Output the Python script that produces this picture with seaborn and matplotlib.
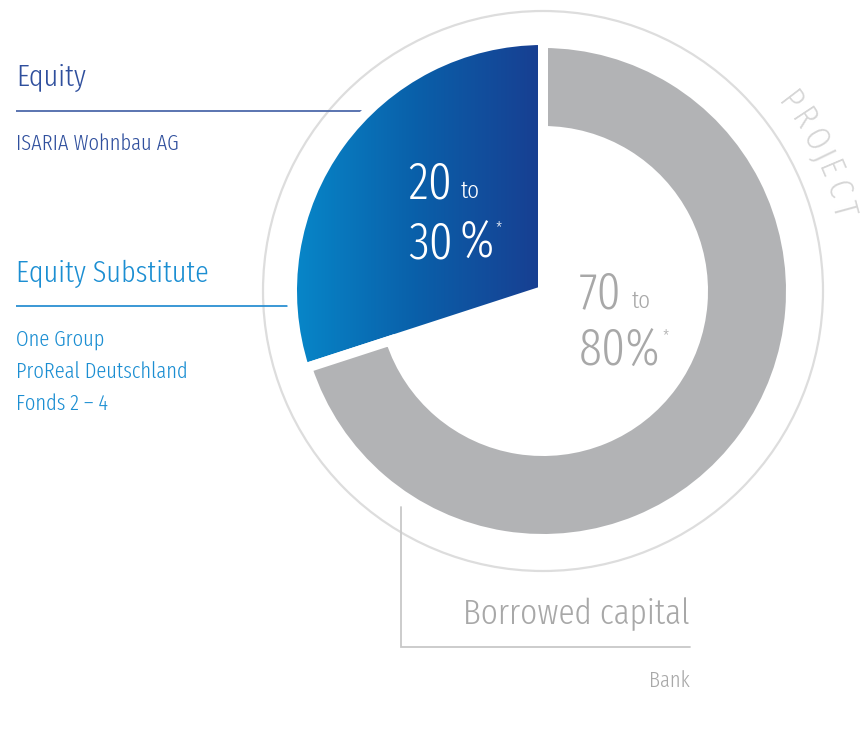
import numpy as np
import matplotlib
matplotlib.use("Agg")
import matplotlib.pyplot as plt
from matplotlib import font_manager as fm
from matplotlib.patches import Wedge, Circle
from matplotlib.colors import LinearSegmentedColormap
from matplotlib.textpath import TextPath
from matplotlib.font_manager import FontProperties
import seaborn as sns

# ---- data -------------------------------------------------------------
segments = ["Equity", "Borrowed capital"]
equity_range = [20, 30]          # percent
borrowed_range = [70, 80]        # percent
shares = [equity_range[1], borrowed_range[0]]   # wedge sizes

equity_title = "Equity"
equity_lines = ["ISARIA Wohnbau AG"]
substitute_title = "Equity Substitute"
substitute_lines = ["One Group", "ProReal Deutschland", "Fonds 2 \u2013 4"]
borrowed_title = "Borrowed capital"
borrowed_lines = ["Bank"]
ring_word = "PROJECT"

# ---- style ------------------------------------------------------------
sns.set_theme(style="white")
available = {f.name for f in fm.fontManager.ttflist}
family = next(f for f in ["Fira Sans Extra Condensed", "Fira Sans Condensed",
                          "Roboto Condensed", "Barlow Semi Condensed",
                          "Sofia Sans Condensed", "Asap Condensed", "DejaVu Sans"]
              if f in available)
plt.rcParams["font.family"] = [family, "DejaVu Sans"]
plt.rcParams["font.weight"] = 300

DARK_BLUE = "#2f4f9d"
LIGHT_BLUE = "#1b8ed2"
GRAY = "#b2b3b5"
TEXT_GRAY = "#a8a8a8"
LINE_GRAY = "#c8c8c8"
RING_GRAY = "#dddddd"

W, H = 865, 729
fig = plt.figure(figsize=(W / 100, H / 100), dpi=100)
ax = fig.add_axes([0, 0, 1, 1])


def Y(y):
    """Convert a top-down pixel row into the axes' y coordinate."""
    return H - y


cx, cy = 543, Y(291)
stroke = 7.2          # white separation stroke (points)
pad = 5               # half of the stroke in pixels

# ---- donut ------------------------------------------------------------
wedges, _ = ax.pie(shares, colors=["#0b62ad", GRAY], startangle=90,
                   counterclock=True, center=(cx, cy), radius=246 + pad,
                   frame=True,
                   wedgeprops=dict(edgecolor="white", linewidth=stroke))
blue, gray = wedges
gray.set_radius(243 + pad)
gray.set_width(243 - 165 + 2 * pad)
gray.set_zorder(4)

# horizontal gradient across the equity wedge
cmap = LinearSegmentedColormap.from_list("eq", ["#0787c9", "#0a5fa9", "#183e91"])
grad = np.linspace(0, 1, 256)[None, :]
im = ax.imshow(grad, cmap=cmap, extent=(cx - 250, cx, cy - 80, cy + 255),
               aspect="auto", zorder=2, interpolation="bilinear")
im.set_clip_path(blue)
edge = Wedge((cx, cy), 246 + pad, blue.theta1, blue.theta2, facecolor="none",
             edgecolor="white", linewidth=stroke, zorder=3, joinstyle="round")
ax.add_patch(edge)

# thin outer ring
ax.add_patch(Circle((cx, cy), 280, fill=False, edgecolor=RING_GRAY,
                    linewidth=1.6, zorder=0.5))

# ---- curved word along the outer ring ---------------------------------
fs_word = 25
fp = FontProperties(family=family, weight=300, size=fs_word * 100 / 72)
ends = [TextPath((0, 0), ring_word[:i + 1], prop=fp).get_extents().x1
        for i in range(len(ring_word))]
starts = [0] + [TextPath((0, 0), ring_word[:i], prop=fp).get_extents().x1
                for i in range(1, len(ring_word))]
centers = np.array([(s + e) / 2 for s, e in zip(starts, ends)])
span = 120.0
centers = (centers - centers[0]) / (centers[-1] - centers[0]) * span
r_word = 311
a_mid = np.deg2rad(26.3)
for ch, c in zip(ring_word, centers):
    a = a_mid - (c - span / 2) / r_word
    ax.text(cx + r_word * np.cos(a), cy + r_word * np.sin(a), ch,
            fontsize=fs_word, color="#d6d6d6", rotation=np.rad2deg(a) - 90,
            rotation_mode="anchor", ha="center", va="center")

# ---- values inside the donut ------------------------------------------
big, small, star = 37, 18, 12
ax.text(408, Y(198), f"{equity_range[0]}", fontsize=big, color="white",
        ha="left", va="baseline", zorder=5)
ax.text(461, Y(198), "to", fontsize=small, color="white",
        ha="left", va="baseline", zorder=5)
ax.text(408, Y(258), f"{equity_range[1]}", fontsize=big, color="white",
        ha="left", va="baseline", zorder=5)
pct = ax.text(460, Y(258), "%", fontsize=big, color="white",
              ha="left", va="baseline", zorder=5)
ax.annotate("*", xy=(1, 1), xycoords=pct, xytext=(1, -1),
            textcoords="offset points", fontsize=star, color="white",
            ha="left", va="top", zorder=5)

ax.text(579, Y(308), f"{borrowed_range[0]}", fontsize=big, color=TEXT_GRAY,
        ha="left", va="baseline", zorder=5)
ax.text(632, Y(308), "to", fontsize=small, color=TEXT_GRAY,
        ha="left", va="baseline", zorder=5)
val = ax.text(579, Y(366), f"{borrowed_range[1]}%", fontsize=big,
              color=TEXT_GRAY, ha="left", va="baseline", zorder=5)
ax.annotate("*", xy=(1, 1), xycoords=val, xytext=(1, -1),
            textcoords="offset points", fontsize=star, color=TEXT_GRAY,
            ha="left", va="top", zorder=5)

# ---- left legend blocks -----------------------------------------------
ax.text(16, Y(86), equity_title, fontsize=22, color=DARK_BLUE,
        ha="left", va="baseline")
ax.plot([16, 363], [Y(111), Y(111)], color="#4d69aa", lw=1.3,
        solid_capstyle="butt")
for i, t in enumerate(equity_lines):
    ax.text(16, Y(150 + 32 * i), t, fontsize=16, color=DARK_BLUE,
            ha="left", va="baseline")

ax.text(16, Y(282), substitute_title, fontsize=22, color=LIGHT_BLUE,
        ha="left", va="baseline")
ax.plot([16, 288], [Y(306), Y(306)], color="#2b90d2", lw=1.3,
        solid_capstyle="butt")
for i, t in enumerate(substitute_lines):
    ax.text(16, Y(346 + 32 * i), t, fontsize=16, color=LIGHT_BLUE,
            ha="left", va="baseline")

# ---- borrowed capital block --------------------------------------------
ax.plot([401, 401, 690], [Y(507), Y(647), Y(647)], color=LINE_GRAY, lw=1.3,
        solid_joinstyle="miter")
ax.text(690, Y(624), borrowed_title, fontsize=26, color=TEXT_GRAY,
        ha="right", va="baseline")
for i, t in enumerate(borrowed_lines):
    ax.text(690, Y(687 + 32 * i), t, fontsize=16, color=TEXT_GRAY,
            ha="right", va="baseline")

ax.set_xlim(0, W)
ax.set_ylim(0, H)
ax.set_aspect("equal")
ax.axis("off")
fig.savefig("out.png", dpi=100, facecolor="white")
